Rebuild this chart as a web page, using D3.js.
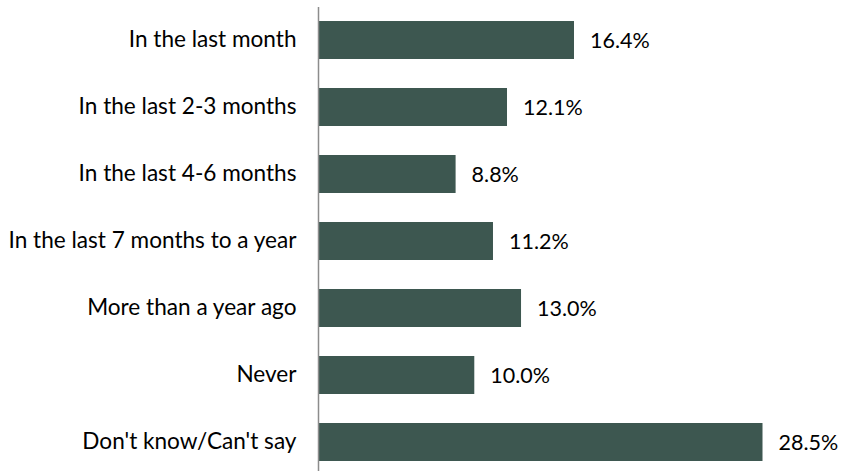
<!DOCTYPE html>
<html>
<head>
<meta charset="utf-8">
<script src="https://unpkg.com/d3@7/dist/d3.min.js"></script>
<style>
  body { margin: 0; background: #fff; }
  text { font-family: Lato, "Open Sans", sans-serif; fill: #000; }
</style>
</head>
<body>
<div id="chart"></div>
<script>
// data
const categories = [
  "In the last month",
  "In the last 2-3 months",
  "In the last 4-6 months",
  "In the last 7 months to a year",
  "More than a year ago",
  "Never",
  "Don't know/Can't say"
];
const values = [16.4, 12.1, 8.8, 11.2, 13.0, 10.0, 28.5];

const w = 843;
const h = 471;
const x0 = 318.5;

const svg = d3.select("#chart")
  .append("svg")
  .attr("width", w)
  .attr("height", h);

const xScale = d3.scaleLinear()
  .domain([0, 28.5])
  .range([x0, 762.5]);

const yScale = d3.scaleBand()
  .domain(categories)
  .range([-8, 490])
  .padding(0.433);

// bars
svg.selectAll("rect")
  .data(values)
  .enter()
  .append("rect")
  .attr("x", xScale(0))
  .attr("y", (d, i) => yScale(categories[i]))
  .attr("width", (d) => xScale(d) - xScale(0))
  .attr("height", yScale.bandwidth())
  .attr("fill", "#3d5750");

// value labels
svg.selectAll(".val")
  .data(values)
  .enter()
  .append("text")
  .attr("class", "val")
  .attr("x", (d) => xScale(d) + 16)
  .attr("y", (d, i) => yScale(categories[i]) + yScale.bandwidth() / 2)
  .attr("dy", "0.35em")
  .attr("font-size", 21.5)
  .text((d) => d.toFixed(1) + "%");

// category axis
const yAxis = d3.axisLeft(yScale).tickSize(0).tickPadding(22);
const g = svg.append("g")
  .attr("transform", "translate(" + x0 + ",0)")
  .call(yAxis);
g.select(".domain").remove();
g.selectAll("text")
  .attr("font-size", 22.6)
  .style("font-family", "Lato, 'Open Sans', sans-serif");

svg.append("line")
  .attr("x1", x0).attr("x2", x0)
  .attr("y1", 7).attr("y2", h)
  .attr("stroke", "#8c8c8c")
  .attr("stroke-width", 1.5);
</script>
</body>
</html>
